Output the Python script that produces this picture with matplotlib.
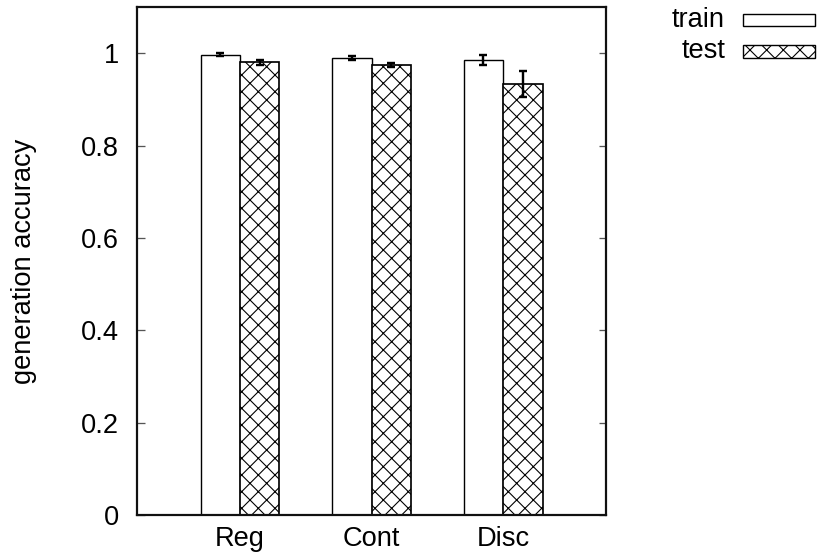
import matplotlib
matplotlib.use("Agg")
import matplotlib.pyplot as plt
from matplotlib.patches import Rectangle
from matplotlib.ticker import FormatStrFormatter
import numpy as np

categories = ["Reg", "Cont", "Disc"]
train_acc = [0.997, 0.989, 0.986]
train_err = [0.003, 0.004, 0.011]
test_acc = [0.980, 0.974, 0.933]
test_err = [0.005, 0.005, 0.028]
series_labels = ["train", "test"]
y_ticks = [0, 0.2, 0.4, 0.6, 0.8, 1.0]

DPI = 100
W, H = 821, 560


def px(v):
    """Convert a size in pixels to points at the output resolution."""
    return v * 72.0 / DPI


plt.rcParams["font.family"] = ["Liberation Sans", "DejaVu Sans"]
plt.rcParams["hatch.linewidth"] = px(1.1)
plt.rcParams["hatch.color"] = "black"

FS = px(27.3)

fig = plt.figure(figsize=(W / DPI, H / DPI), dpi=DPI)
ax = fig.add_axes([136.7 / W, 1 - 515 / H, (605.7 - 136.7) / W, (515 - 7) / H])

x = np.arange(len(categories))
bw = 0.3
ax.bar(x - bw / 2, train_acc, width=bw, color="white", edgecolor="black",
       linewidth=px(1.4), zorder=2)
ax.bar(x + bw / 2, test_acc, width=bw, color="white", edgecolor="black",
       linewidth=px(1.7), hatch="xx", zorder=2)

err_kw = dict(fmt="none", ecolor="black", elinewidth=px(2.4), capsize=px(4.3),
              capthick=px(2.4), zorder=3)
ax.errorbar(x - bw / 2, train_acc, yerr=train_err, **err_kw)
ax.errorbar(x + bw / 2, test_acc, yerr=test_err, **err_kw)

ax.set_xlim(-0.785, 2.78)
ax.set_ylim(0, 1.1)
ax.set_xticks(x)
ax.set_xticklabels(categories, fontsize=FS)
ax.set_yticks(y_ticks)
ax.yaxis.set_major_formatter(FormatStrFormatter("%g"))
ax.tick_params(axis="y", direction="in", length=px(7.5), width=px(1.3),
               color="#555555", left=True, right=True, labelsize=FS, pad=px(18))
ax.tick_params(axis="x", length=0, pad=px(11))
for s in ax.spines.values():
    s.set_linewidth(px(2.2))
    s.set_color("#111111")

ax.set_ylabel("generation accuracy", fontsize=FS, labelpad=px(44))

# key in the top-right corner, label text followed by a sample box
key_rows = [(20, None), (51.5, "xx")]
for (yc, hatch), label in zip(key_rows, series_labels):
    fig.text(725 / W, 1 - yc / H, label, ha="right", va="center", fontsize=FS)
    r = Rectangle((743 / W, 1 - (yc + 6) / H), 72 / W, 12 / H,
                  transform=fig.transFigure, facecolor="white",
                  edgecolor="black", linewidth=px(1.4), hatch=hatch)
    fig.add_artist(r)

fig.savefig("out.png", dpi=DPI)
